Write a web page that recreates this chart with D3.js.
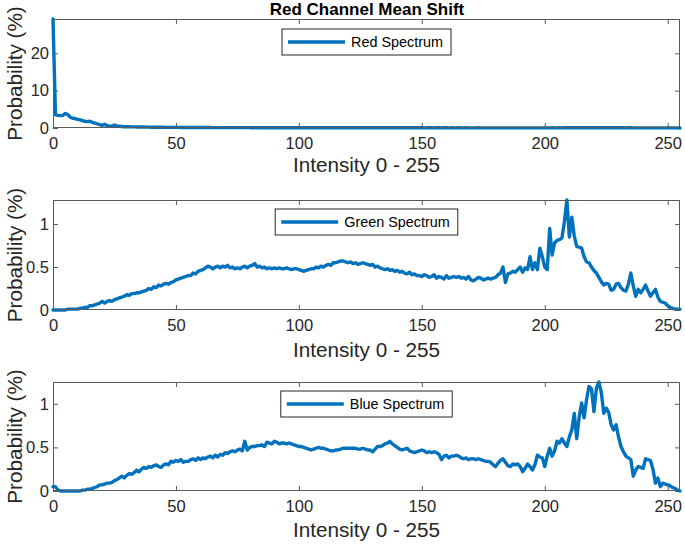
<!DOCTYPE html>
<html>
<head>
<meta charset="utf-8">
<script src="https://cdn.jsdelivr.net/npm/d3@7"></script>
<style>
  html, body { margin: 0; padding: 0; background: #fff; }
  svg { display: block; font-family: "Liberation Sans", Arial, sans-serif; }
</style>
</head>
<body>
<svg id="chart" width="685" height="546"></svg>
<script>
// ---------- DATA ----------
const intensity = d3.range(0, 256);
const xTicks = [0, 50, 100, 150, 200, 250];
const redYTicks = [0, 10, 20];
const gbYTicks = [0, 0.5, 1];
const titleText = "Red Channel Mean Shift";
const xLabelText = "Intensity 0 - 255";
const yLabelText = "Probability (%)";
const legendNames = ["Red Spectrum", "Green Spectrum", "Blue Spectrum"];

const redValues = [
  29.2,3.5,3.4,3.3,3.4,3.9,3.6,2.9,2.6,2.5,
  2.3,2.2,2.0,1.8,1.7,1.8,1.5,1.3,1.1,0.9,
  0.7,1.0,0.6,0.5,0.5,0.8,0.5,0.45,0.4,0.35,
  0.35,0.32,0.30,0.30,0.28,0.27,0.26,0.25,0.24,0.23,
  0.22,0.21,0.21,0.20,0.19,0.19,0.18,0.18,0.17,0.17,
  0.16,0.16,0.15,0.15,0.15,0.14,0.14,0.14,0.13,0.13,
  0.13,0.12,0.12,0.12,0.12,0.11,0.11,0.11,0.11,0.10,
  0.10,0.10,0.10,0.10,0.09,0.09,0.09,0.09,0.09,0.09,
  0.09,0.08,0.09,0.08,0.08,0.09,0.08,0.08,0.08,0.07,
  0.08,0.08,0.07,0.08,0.07,0.07,0.08,0.07,0.07,0.07,
  0.07,0.07,0.06,0.07,0.07,0.06,0.07,0.06,0.06,0.07,
  0.06,0.06,0.06,0.06,0.07,0.06,0.06,0.06,0.05,0.06,
  0.06,0.06,0.05,0.06,0.06,0.05,0.06,0.05,0.05,0.06,
  0.05,0.05,0.06,0.05,0.05,0.05,0.06,0.05,0.05,0.05,
  0.05,0.05,0.05,0.05,0.06,0.05,0.05,0.05,0.05,0.05,
  0.05,0.04,0.05,0.05,0.05,0.04,0.05,0.05,0.04,0.05,
  0.05,0.04,0.05,0.04,0.04,0.05,0.04,0.04,0.05,0.04,
  0.04,0.04,0.04,0.05,0.04,0.04,0.04,0.04,0.04,0.04,
  0.04,0.04,0.04,0.04,0.04,0.03,0.04,0.04,0.04,0.04,
  0.04,0.03,0.04,0.04,0.04,0.04,0.03,0.04,0.04,0.04,
  0.04,0.04,0.04,0.05,0.04,0.04,0.05,0.04,0.05,0.05,
  0.05,0.05,0.05,0.06,0.05,0.05,0.06,0.05,0.06,0.06,
  0.06,0.06,0.05,0.06,0.06,0.06,0.05,0.06,0.05,0.05,
  0.05,0.05,0.05,0.04,0.05,0.05,0.04,0.04,0.04,0.04,
  0.04,0.04,0.04,0.03,0.04,0.03,0.03,0.03,0.03,0.03,
  0.03,0.03,0.02,0.03,0.02,0.02
];

const greenValues = [
  0.00,0.00,0.00,0.00,0.00,0.00,0.01,0.01,0.01,0.01,
  0.01,0.02,0.02,0.03,0.03,0.05,0.05,0.06,0.07,0.08,
  0.10,0.08,0.10,0.11,0.10,0.12,0.13,0.14,0.15,0.16,
  0.18,0.17,0.19,0.19,0.20,0.20,0.21,0.22,0.23,0.25,
  0.24,0.27,0.26,0.29,0.28,0.30,0.31,0.30,0.32,0.33,
  0.35,0.36,0.37,0.38,0.39,0.40,0.40,0.43,0.42,0.45,
  0.46,0.47,0.49,0.51,0.50,0.48,0.50,0.51,0.49,0.51,
  0.50,0.52,0.49,0.50,0.48,0.49,0.48,0.50,0.51,0.49,
  0.51,0.52,0.54,0.50,0.51,0.49,0.50,0.48,0.49,0.48,
  0.49,0.48,0.49,0.48,0.48,0.49,0.48,0.47,0.48,0.48,
  0.47,0.46,0.45,0.46,0.47,0.48,0.48,0.50,0.49,0.51,
  0.50,0.52,0.53,0.52,0.55,0.55,0.56,0.57,0.57,0.56,
  0.55,0.56,0.54,0.55,0.53,0.54,0.55,0.54,0.53,0.52,
  0.53,0.50,0.51,0.49,0.48,0.47,0.48,0.46,0.47,0.45,
  0.46,0.44,0.45,0.43,0.42,0.44,0.41,0.42,0.40,0.40,
  0.39,0.41,0.40,0.38,0.39,0.41,0.37,0.39,0.38,0.36,
  0.40,0.37,0.38,0.39,0.38,0.39,0.37,0.38,0.36,0.39,
  0.35,0.34,0.36,0.38,0.37,0.35,0.36,0.37,0.36,0.37,
  0.38,0.41,0.43,0.50,0.32,0.42,0.43,0.45,0.44,0.47,
  0.50,0.44,0.49,0.47,0.62,0.47,0.55,0.47,0.72,0.62,
  0.50,0.47,0.95,0.64,0.78,0.81,0.82,0.84,1.03,1.28,
  0.85,1.08,0.86,0.74,0.73,0.72,0.62,0.56,0.55,0.50,
  0.46,0.43,0.38,0.33,0.29,0.31,0.30,0.23,0.24,0.30,
  0.31,0.26,0.23,0.22,0.30,0.43,0.28,0.16,0.24,0.20,
  0.24,0.29,0.22,0.16,0.20,0.24,0.15,0.10,0.09,0.08,
  0.05,0.03,0.02,0.01,0.01,0.01
];

const blueValues = [
  0.05,0.05,0.01,0.00,0.00,0.00,0.00,0.00,0.00,0.00,
  0.00,0.00,0.01,0.01,0.02,0.02,0.03,0.04,0.05,0.07,
  0.07,0.08,0.09,0.09,0.10,0.12,0.13,0.15,0.17,0.15,
  0.18,0.20,0.19,0.21,0.24,0.22,0.25,0.27,0.26,0.28,
  0.27,0.29,0.30,0.28,0.27,0.30,0.31,0.30,0.34,0.33,
  0.35,0.34,0.36,0.33,0.34,0.34,0.36,0.37,0.35,0.38,
  0.36,0.38,0.37,0.39,0.40,0.38,0.41,0.39,0.42,0.41,
  0.44,0.43,0.45,0.46,0.45,0.47,0.48,0.46,0.57,0.47,
  0.50,0.51,0.51,0.52,0.52,0.53,0.51,0.56,0.55,0.54,
  0.57,0.56,0.54,0.55,0.55,0.54,0.55,0.54,0.53,0.52,
  0.51,0.51,0.50,0.49,0.48,0.47,0.48,0.49,0.50,0.49,
  0.49,0.48,0.47,0.46,0.46,0.47,0.47,0.48,0.49,0.49,
  0.49,0.49,0.49,0.49,0.48,0.48,0.49,0.48,0.47,0.47,
  0.45,0.48,0.51,0.51,0.52,0.54,0.55,0.57,0.54,0.52,
  0.50,0.48,0.47,0.48,0.49,0.46,0.45,0.44,0.45,0.46,
  0.47,0.46,0.44,0.45,0.44,0.45,0.44,0.42,0.36,0.40,
  0.41,0.38,0.40,0.40,0.41,0.40,0.38,0.37,0.38,0.36,
  0.37,0.37,0.36,0.37,0.36,0.35,0.34,0.34,0.33,0.30,
  0.28,0.32,0.35,0.37,0.33,0.29,0.28,0.31,0.30,0.31,
  0.28,0.22,0.26,0.31,0.28,0.24,0.30,0.41,0.39,0.38,
  0.28,0.40,0.49,0.40,0.46,0.57,0.55,0.60,0.55,0.51,
  0.62,0.70,0.89,0.60,0.85,1.01,0.84,1.05,1.20,1.17,
  0.91,1.18,1.25,1.13,0.89,0.95,0.90,0.76,0.70,0.76,
  0.62,0.51,0.45,0.40,0.38,0.36,0.17,0.24,0.28,0.27,
  0.26,0.37,0.36,0.35,0.25,0.09,0.15,0.05,0.09,0.08,
  0.07,0.06,0.04,0.03,0.01,0.00
];

// ---------- LAYOUT ----------
const svg = d3.select("#chart");
const lineColor = "#0072BD";
const axisColor = "#262626";
const boxColor = "#5a5a5a";
const left = 53, right = 680;

const panels = [
  { values: redValues, top: 19, bottom: 128, yTicks: redYTicks, name: legendNames[0],
    legendTop: 29, xLabelY: 172, fmt: d => d3.format("d")(d) },
  { values: greenValues, top: 200, bottom: 310, yTicks: gbYTicks, name: legendNames[1],
    legendTop: 209, xLabelY: 357, fmt: d => String(d) },
  { values: blueValues, top: 382, bottom: 491, yTicks: gbYTicks, name: legendNames[2],
    legendTop: 391, xLabelY: 537, fmt: d => String(d) }
];

const x = d3.scaleLinear().domain([0, 255]).range([left, right]);

panels.forEach((p, i) => {
  const y = d3.scaleLinear().domain([0, d3.max(p.values)]).range([p.bottom, p.top]);
  const g = svg.append("g");

  const ax = g.append("g").attr("transform", `translate(0,${p.bottom})`)
    .call(d3.axisBottom(x).tickValues(xTicks).tickSizeInner(-5).tickSizeOuter(0).tickPadding(9));
  const axT = g.append("g").attr("transform", `translate(0,${p.top})`)
    .call(d3.axisTop(x).tickValues(xTicks).tickSizeInner(-5).tickSizeOuter(0).tickFormat(""));
  const ay = g.append("g").attr("transform", `translate(${left},0)`)
    .call(d3.axisLeft(y).tickValues(p.yTicks).tickSizeInner(-5).tickSizeOuter(0).tickPadding(4).tickFormat(p.fmt));
  const ayR = g.append("g").attr("transform", `translate(${right},0)`)
    .call(d3.axisRight(y).tickValues(p.yTicks).tickSizeInner(-5).tickSizeOuter(0).tickFormat(""));

  [ax, axT, ay, ayR].forEach(a => {
    a.select(".domain").remove();
    a.selectAll(".tick line").attr("stroke", boxColor).attr("stroke-width", 1);
    a.selectAll(".tick text").attr("fill", axisColor)
      .style("font-family", '"Liberation Sans", Arial, sans-serif').style("font-size", "16.5px");
  });

  const line = d3.line().x((d, k) => x(intensity[k])).y(d => y(d));
  g.append("path").datum(p.values)
    .attr("d", line)
    .attr("fill", "none")
    .attr("stroke", lineColor)
    .attr("stroke-width", 3.4)
    .attr("stroke-linejoin", "round")
    .attr("stroke-linecap", "round");

  g.append("rect")
    .attr("x", left + 0.5).attr("y", p.top + 0.5)
    .attr("width", right - left - 1).attr("height", p.bottom - p.top - 1)
    .attr("fill", "none").attr("stroke", boxColor).attr("stroke-width", 1);

  g.append("text").attr("x", (left + right) / 2).attr("y", p.xLabelY)
    .attr("text-anchor", "middle").attr("fill", axisColor)
    .style("font-size", "20.7px").text(xLabelText);

  g.append("text")
    .attr("transform", `translate(22,${(p.top + p.bottom) / 2}) rotate(-90)`)
    .attr("text-anchor", "middle").attr("fill", axisColor)
    .style("font-size", "20.7px").text(yLabelText);

  const lg = g.append("g");
  const rect = lg.append("rect");
  const txt = lg.append("text").attr("fill", "#000")
    .style("font-size", "14.4px").text(p.name);
  const tw = txt.node().getComputedTextLength();
  const bw = 6 + 57 + 6 + tw + 8;
  const bh = 26;
  const bx = (left + right) / 2 - bw / 2;
  const by = p.legendTop;
  rect.attr("x", bx).attr("y", by).attr("width", bw).attr("height", bh)
    .attr("fill", "#fff").attr("stroke", axisColor).attr("stroke-width", 1);
  lg.append("line")
    .attr("x1", bx + 6).attr("x2", bx + 63)
    .attr("y1", by + bh / 2).attr("y2", by + bh / 2)
    .attr("stroke", lineColor).attr("stroke-width", 3.4);
  txt.attr("x", bx + 69).attr("y", by + bh / 2 + 5);
});

svg.append("text").attr("x", 367).attr("y", 15)
  .attr("text-anchor", "middle").attr("fill", "#000")
  .style("font-size", "17px").style("font-weight", "bold").text(titleText);
</script>
</body>
</html>
